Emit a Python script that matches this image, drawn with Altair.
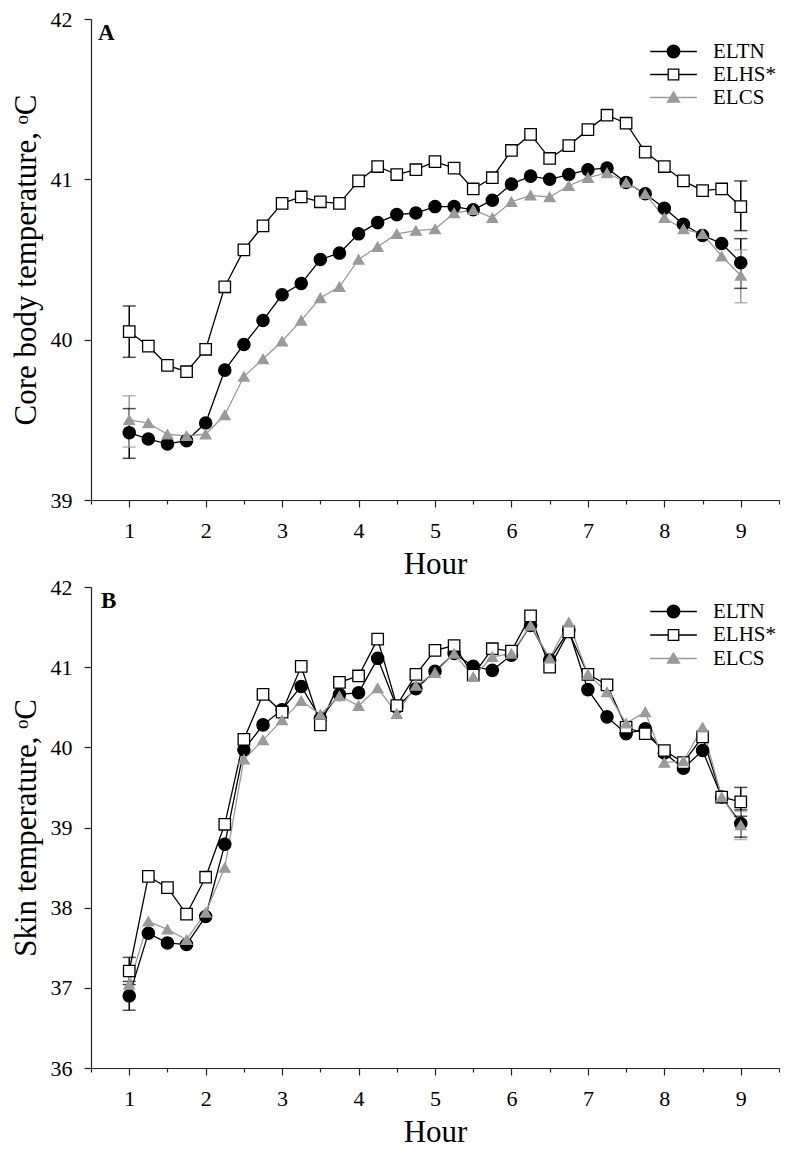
import altair as alt
import pandas as pd

FONT = "Liberation Serif"

series_names = ["ELTN", "ELHS*", "ELCS"]
hours = [1.0, 1.25, 1.5, 1.75, 2.0, 2.25, 2.5, 2.75, 3.0, 3.25, 3.5, 3.75, 4.0, 4.25, 4.5, 4.75,
         5.0, 5.25, 5.5, 5.75, 6.0, 6.25, 6.5, 6.75, 7.0, 7.25, 7.5, 7.75, 8.0, 8.25, 8.5, 8.75, 9.0]
x_ticks = [0.5, 1, 1.5, 2, 2.5, 3, 3.5, 4, 4.5, 5, 5.5, 6, 6.5, 7, 7.5, 8, 8.5, 9, 9.5]

# Panel A: core body temperature
core_eltn = [39.42, 39.38, 39.35, 39.37, 39.48, 39.81, 39.97, 40.12, 40.28, 40.35, 40.50, 40.54,
             40.66, 40.73, 40.78, 40.79, 40.83, 40.83, 40.81, 40.87, 40.97, 41.02, 41.00, 41.03,
             41.06, 41.07, 40.98, 40.91, 40.82, 40.72, 40.65, 40.60, 40.48]
core_elhs = [40.05, 39.96, 39.84, 39.80, 39.94, 40.33, 40.56, 40.71, 40.85, 40.89, 40.86, 40.85,
             40.99, 41.08, 41.03, 41.06, 41.11, 41.07, 40.94, 41.01, 41.18, 41.28, 41.13, 41.21,
             41.31, 41.40, 41.35, 41.17, 41.08, 40.99, 40.93, 40.94, 40.83]
core_elcs = [39.50, 39.48, 39.41, 39.40, 39.41, 39.53, 39.77, 39.88, 39.99, 40.12, 40.26, 40.33,
             40.50, 40.58, 40.66, 40.68, 40.69, 40.79, 40.81, 40.76, 40.86, 40.90, 40.89, 40.96,
             41.01, 41.04, 40.98, 40.91, 40.76, 40.69, 40.66, 40.52, 40.40]

# Panel B: skin temperature
skin_eltn = [36.90, 37.68, 37.56, 37.54, 37.89, 38.79, 39.97, 40.28, 40.47, 40.76, 40.36, 40.66,
             40.68, 41.11, 40.50, 40.73, 40.95, 41.17, 41.01, 40.96, 41.15, 41.52, 41.09, 41.46,
             40.72, 40.38, 40.17, 40.23, 39.93, 39.74, 39.96, 39.38, 39.05]
skin_elhs = [37.21, 38.39, 38.25, 37.92, 38.38, 39.04, 40.10, 40.66, 40.44, 41.01, 40.28, 40.81,
             40.89, 41.35, 40.52, 40.91, 41.21, 41.27, 40.90, 41.23, 41.20, 41.64, 41.00, 41.44,
             40.91, 40.78, 40.25, 40.17, 39.96, 39.81, 40.13, 39.38, 39.32]
skin_elcs = [37.04, 37.83, 37.73, 37.60, 37.94, 38.50, 39.85, 40.09, 40.34, 40.58, 40.41, 40.64,
             40.52, 40.74, 40.42, 40.77, 40.93, 41.17, 40.88, 41.13, 41.17, 41.52, 41.11, 41.56,
             40.91, 40.69, 40.30, 40.44, 39.81, 39.83, 40.25, 39.38, 39.03]

# Error bars (first and last hour)
err_hours = [1.0, 9.0]
core_err_lo = {"ELTN": [39.26, 40.32], "ELHS*": [39.89, 40.68], "ELCS": [39.33, 40.23]}
core_err_hi = {"ELTN": [39.57, 40.63], "ELHS*": [40.21, 40.99], "ELCS": [39.65, 40.56]}
skin_err_lo = {"ELTN": [36.72, 38.88], "ELHS*": [37.04, 39.14], "ELCS": [36.86, 38.85]}
skin_err_hi = {"ELTN": [37.08, 39.22], "ELHS*": [37.38, 39.50], "ELCS": [37.22, 39.20]}

line_colors = ["#000000", "#000000", "#9a9a9a"]
fill_colors = ["#000000", "#ffffff", "#9a9a9a"]
stroke_colors = ["#000000", "#000000", "#9a9a9a"]
shapes = ["circle", "square", "triangle-up"]
sizes = [150, 112, 150]

legend_paths = [
    "M-4.24,0L-1.14,0M1.14,0L4.24,0M1.14,0A1.14,1.14,0,1,1,-1.14,0A1.14,1.14,0,1,1,1.14,0Z",
    "M-4.24,0L-0.96,0M0.96,0L4.24,0M-0.96,-0.96L0.96,-0.96L0.96,0.96L-0.96,0.96Z",
    "M-4.24,0L4.24,0M0,-1.05L1.1,0.85L-1.1,0.85Z",
]

W = 688
H = 481


def make_df(vals):
    rows = []
    for name, v in zip(series_names, vals):
        for h, t in zip(hours, v):
            rows.append({"hour": h, "value": t, "series": name})
    return pd.DataFrame(rows)


def make_err(lo, hi):
    rows = []
    for name in series_names:
        for h, a, b in zip(err_hours, lo[name], hi[name]):
            rows.append({"hour": h, "lo": a, "hi": b, "series": name})
    return pd.DataFrame(rows)


def panel(vals, lo, hi, ydomain, yticks, ytitle, letter, letter_x, legend_ys):
    df = make_df(vals)
    edf = make_err(lo, hi)

    xaxis = alt.Axis(values=x_ticks, title="Hour",
                     labelExpr="datum.value % 1 === 0 ? format(datum.value, 'd') : ''",
                     tickSize={"condition": {"test": "datum.value % 1 === 0", "value": 7}, "value": 4},
                     labelPadding=13, titlePadding=8)
    x = alt.X("hour:Q", scale=alt.Scale(domain=[0.5, 9.5], nice=False, zero=False), axis=xaxis)
    yaxis = alt.Axis(values=yticks, title=ytitle, format="d", tickSize=7,
                     labelPadding=12, titlePadding=8)
    yscale = alt.Scale(domain=ydomain, nice=False, zero=False)

    def yenc(field):
        return alt.Y(field + ":Q", scale=yscale, axis=yaxis)

    color = alt.Color("series:N", scale=alt.Scale(domain=series_names, range=line_colors), legend=None)

    lines = alt.Chart(df).mark_line(strokeWidth=1.3).encode(x=x, y=yenc("value"), color=color)
    ebar = alt.Chart(edf).mark_rule(strokeWidth=1.5).encode(x=x, y=yenc("lo"), y2="hi:Q", color=color)
    cap_lo = alt.Chart(edf).mark_tick(orient="horizontal", size=13, thickness=1.5).encode(
        x=x, y=yenc("lo"), color=color)
    cap_hi = alt.Chart(edf).mark_tick(orient="horizontal", size=13, thickness=1.5).encode(
        x=x, y=yenc("hi"), color=color)
    pts = alt.Chart(df).mark_point(filled=True, opacity=1, strokeWidth=1.3).encode(
        x=x, y=yenc("value"),
        shape=alt.Shape("series:N", scale=alt.Scale(domain=series_names, range=shapes), legend=None),
        fill=alt.Fill("series:N", scale=alt.Scale(domain=series_names, range=fill_colors), legend=None),
        stroke=alt.Stroke("series:N", scale=alt.Scale(domain=series_names, range=stroke_colors), legend=None),
        size=alt.Size("series:N", scale=alt.Scale(domain=series_names, range=sizes), legend=None),
    )
    label = alt.Chart(pd.DataFrame({"t": [letter]})).mark_text(
        font=FONT, fontSize=23, fontWeight="bold", align="left", baseline="top", color="black"
    ).encode(text="t:N", x=alt.value(letter_x), y=alt.value(3))

    proxies = []
    for i, name in enumerate(series_names):
        proxies.append(
            alt.Chart(df).transform_filter("false").mark_point(
                filled=True, opacity=1, fill=fill_colors[i], stroke=stroke_colors[i], strokeWidth=1.3
            ).encode(
                shape=alt.Shape("series:N", scale=alt.Scale(domain=[name], range=[legend_paths[i]]),
                                legend=alt.Legend(orient="none", legendX=572, legendY=legend_ys[i],
                                                  title=None, symbolSize=121, symbolStrokeWidth=1.3,
                                                  labelFont=FONT, labelFontSize=21, labelColor="black",
                                                  labelOffset=29, padding=0))
            )
        )

    return alt.layer(lines, ebar, cap_lo, cap_hi, pts, label, *proxies).resolve_scale(
        shape="independent").properties(width=W, height=H)


pA = panel([core_eltn, core_elhs, core_elcs], core_err_lo, core_err_hi, [39, 42], [39, 40, 41, 42],
           "Core body temperature, \u1d52C", "A", 7, [22, 45, 68])
pB = panel([skin_eltn, skin_elhs, skin_elcs], skin_err_lo, skin_err_hi, [36, 42],
           [36, 37, 38, 39, 40, 41, 42], "Skin temperature, \u1d52C", "B", 10, [14, 37.5, 61])

chart = alt.vconcat(pA, pB, spacing=-3).properties(
    padding={"top": 0, "bottom": 0, "left": 2, "right": 0}
).configure_view(stroke=None).configure_axis(
    labelFont=FONT, labelFontSize=22, labelColor="black",
    titleFont=FONT, titleFontSize=31, titleFontWeight="normal", titleColor="black",
    domainColor="#222222", tickColor="#222222", domainWidth=1.2, tickWidth=1.2, grid=False
)

chart.save("out.html", embed_options={"renderer": "svg", "actions": False})
